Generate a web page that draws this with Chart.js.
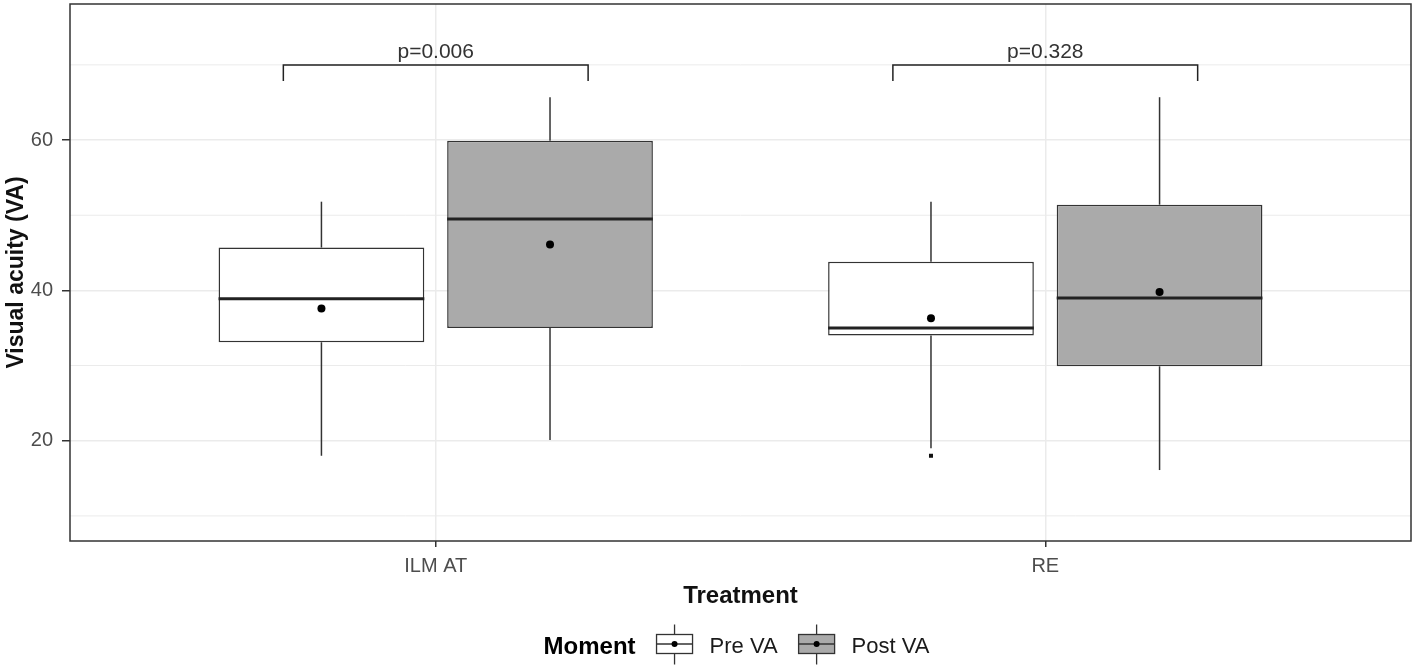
<!DOCTYPE html>
<html>
<head>
<meta charset="utf-8">
<title>Visual acuity by treatment</title>
<script src="https://cdn.jsdelivr.net/npm/chart.js@4.4.1/dist/chart.umd.min.js"></script>
<style>
  html, body { margin: 0; padding: 0; background: #fff; }
  canvas { display: block; }
</style>
</head>
<body>
<canvas id="chart" width="1416" height="671"></canvas>
<script>
/* Boxplot VA pre / post por tratamiento */

const treatments = ['ILM AT', 'RE'];
const moments = ['Pre VA', 'Post VA'];

// Pre VA (cajas blancas)
const preLow = [18.0, 19.0];
const preQ1 = [33.1, 34.0];
const preMedian = [38.9, 35.0];
const preQ3 = [45.7, 43.8];
const preHigh = [51.8, 51.8];
const preMean = [37.6, 36.3];
const preOutliers = [[], [18.0]];

// Post VA (cajas grises)
const postLow = [20.1, 16.1];
const postQ1 = [35.0, 29.9];
const postMedian = [49.5, 39.0];
const postQ3 = [59.9, 51.4];
const postHigh = [65.7, 65.7];
const postMean = [46.1, 39.8];
const postOutliers = [[], []];

const pValues = ['p=0.006', 'p=0.328'];
const yTicks = [20, 40, 60];
const yMinorTicks = [10, 30, 50, 70];

const FONT = '"Liberation Sans", Arial, sans-serif';
const INK = '#333333';
const GRID = '#ebebeb';
const FILLS = ['#ffffff', '#aaaaaa'];
const BRACKET_Y = 70;
const BRACKET_HALF = 0.25;

Chart.defaults.font.family = FONT;

function line(ctx, x1, y1, x2, y2) {
  ctx.beginPath();
  ctx.moveTo(x1, y1);
  ctx.lineTo(x2, y2);
  ctx.stroke();
}

function drawKey(ctx, cx, cy, fill) {
  const w = 36, h = 19;
  ctx.strokeStyle = INK;
  ctx.lineWidth = 1.3;
  line(ctx, cx, cy - h / 2 - 10, cx, cy - h / 2);
  line(ctx, cx, cy + h / 2, cx, cy + h / 2 + 11);
  ctx.fillStyle = fill;
  ctx.fillRect(cx - w / 2, cy - h / 2, w, h);
  ctx.strokeRect(cx - w / 2, cy - h / 2, w, h);
  line(ctx, cx - w / 2, cy, cx + w / 2, cy);
  ctx.fillStyle = '#000';
  ctx.beginPath();
  ctx.arc(cx, cy, 3, 0, Math.PI * 2);
  ctx.fill();
}

const boxExtras = {
  id: 'boxExtras',
  beforeDatasetsDraw(chart) {
    const { ctx, chartArea: a, scales: { y } } = chart;
    ctx.save();
    ctx.strokeStyle = GRID;
    ctx.lineWidth = 1;
    yMinorTicks.forEach(v => {
      const py = y.getPixelForValue(v);
      line(ctx, a.left, py, a.right, py);
    });
    ctx.restore();
  },
  afterDatasetsDraw(chart) {
    const { ctx, chartArea: a, scales: { x, y } } = chart;
    ctx.save();
    chart.data.datasets.forEach((ds, di) => {
      const meta = chart.getDatasetMeta(di);
      const s = ds.stats;
      meta.data.forEach((bar, i) => {
        const { x: cx, width } = bar.getProps(['x', 'width'], true);
        const [q1, q3] = ds.data[i].y;
        // bigotes
        ctx.strokeStyle = INK;
        ctx.lineWidth = 1.5;
        line(ctx, cx, y.getPixelForValue(s.high[i]), cx, y.getPixelForValue(q3));
        line(ctx, cx, y.getPixelForValue(q1), cx, y.getPixelForValue(s.low[i]));
        // mediana
        ctx.strokeStyle = '#222';
        ctx.lineWidth = 3;
        const my = y.getPixelForValue(s.median[i]);
        line(ctx, cx - width / 2, my, cx + width / 2, my);
        // media
        ctx.fillStyle = '#000';
        ctx.beginPath();
        ctx.arc(cx, y.getPixelForValue(s.mean[i]), 4, 0, Math.PI * 2);
        ctx.fill();
        // atipicos
        ctx.fillStyle = '#111';
        s.outliers[i].forEach(v => {
          ctx.fillRect(cx - 2, y.getPixelForValue(v) - 2, 4, 4);
        });
      });
    });

    // corchetes de comparacion
    const tip = 0.03 * (y.max - y.min);
    ctx.strokeStyle = '#222';
    ctx.lineWidth = 1.5;
    ctx.fillStyle = INK;
    ctx.font = '21px ' + FONT;
    ctx.textAlign = 'center';
    ctx.textBaseline = 'alphabetic';
    treatments.forEach((t, i) => {
      const x1 = x.getPixelForValue(i + 1 - BRACKET_HALF);
      const x2 = x.getPixelForValue(i + 1 + BRACKET_HALF);
      const by = y.getPixelForValue(BRACKET_Y);
      const ty = y.getPixelForValue(BRACKET_Y - tip);
      ctx.beginPath();
      ctx.moveTo(x1, ty);
      ctx.lineTo(x1, by);
      ctx.lineTo(x2, by);
      ctx.lineTo(x2, ty);
      ctx.stroke();
      ctx.fillText(pValues[i], (x1 + x2) / 2, by - 7);
    });

    // borde del panel
    ctx.strokeStyle = INK;
    ctx.lineWidth = 1.5;
    ctx.strokeRect(a.left, a.top, a.right - a.left, a.bottom - a.top);
    ctx.restore();
  },
  afterDraw(chart) {
    const { ctx, chartArea: a } = chart;
    ctx.save();
    const titleFont = 'bold 24px ' + FONT;
    const textFont = '22px ' + FONT;
    ctx.font = titleFont;
    const titleW = ctx.measureText('Moment').width;
    ctx.font = textFont;
    const textW = moments.map(m => ctx.measureText(m).width);
    const keyW = 36, gapKey = 21, gapText = 17;
    let total = titleW;
    moments.forEach((m, i) => { total += gapKey + keyW + gapText + textW[i]; });
    let cx = (a.left + a.right) / 2 - total / 2 - 4;
    const cy = chart.height - 27;
    ctx.textAlign = 'left';
    ctx.textBaseline = 'middle';
    ctx.fillStyle = '#000';
    ctx.font = titleFont;
    ctx.fillText('Moment', cx, cy + 3);
    cx += titleW;
    moments.forEach((m, i) => {
      cx += gapKey;
      drawKey(ctx, cx + keyW / 2, cy, FILLS[i]);
      cx += keyW + gapText;
      ctx.fillStyle = '#1a1a1a';
      ctx.font = textFont;
      ctx.fillText(m, cx, cy + 3);
      cx += textW[i];
    });
    ctx.restore();
  },
};

function boxDataset(label, q1, q3, stats, fill) {
  return {
    label,
    data: treatments.map((t, i) => ({ x: i + 1, y: [q1[i], q3[i]] })),
    backgroundColor: fill,
    borderColor: INK,
    borderWidth: 1.5,
    borderSkipped: false,
    categoryPercentage: 0.75,
    barPercentage: 0.9,
    stats,
  };
}

new Chart(document.getElementById('chart'), {
  type: 'bar',
  data: {
    datasets: [
      boxDataset(moments[0], preQ1, preQ3,
        { low: preLow, median: preMedian, high: preHigh, mean: preMean, outliers: preOutliers }, FILLS[0]),
      boxDataset(moments[1], postQ1, postQ3,
        { low: postLow, median: postMedian, high: postHigh, mean: postMean, outliers: postOutliers }, FILLS[1]),
    ],
  },
  options: {
    responsive: false,
    animation: false,
    layout: { padding: { top: 4, right: 5, left: 0, bottom: 0 } },
    plugins: {
      legend: { display: false },
      tooltip: { enabled: false },
    },
    scales: {
      x: {
        type: 'linear',
        min: 0.4,
        max: 2.6,
        offset: false,
        afterBuildTicks: s => { s.ticks = treatments.map((t, i) => ({ value: i + 1 })); },
        afterFit: s => { s.height = 130; s.paddingLeft = 0; s.paddingRight = 0; },
        ticks: {
          callback: v => treatments[v - 1],
          autoSkip: false,
          maxRotation: 0,
          padding: 7,
          color: '#4d4d4d',
          font: { size: 20 },
        },
        grid: { offset: false, color: GRID, lineWidth: 1.5, tickLength: 6, tickColor: INK, tickWidth: 1.5 },
        border: { display: false },
        title: {
          display: true,
          text: 'Treatment',
          color: '#111',
          font: { size: 24, weight: 'bold' },
          padding: { top: 0, bottom: 60 },
        },
      },
      y: {
        min: 6.66,
        max: 78.1,
        afterBuildTicks: s => { s.ticks = yTicks.map(v => ({ value: v })); },
        afterFit: s => { s.width = 70; s.paddingTop = 0; s.paddingBottom = 0; },
        ticks: {
          padding: 9,
          color: '#4d4d4d',
          font: { size: 20 },
        },
        grid: { color: GRID, lineWidth: 1.5, tickLength: 8, tickColor: INK, tickWidth: 1.5 },
        border: { display: false },
        title: {
          display: true,
          text: 'Visual acuity (VA)',
          color: '#111',
          font: { size: 23, weight: 'bold' },
          padding: { top: 3, bottom: 0 },
        },
      },
    },
  },
  plugins: [boxExtras],
});
</script>
</body>
</html>
